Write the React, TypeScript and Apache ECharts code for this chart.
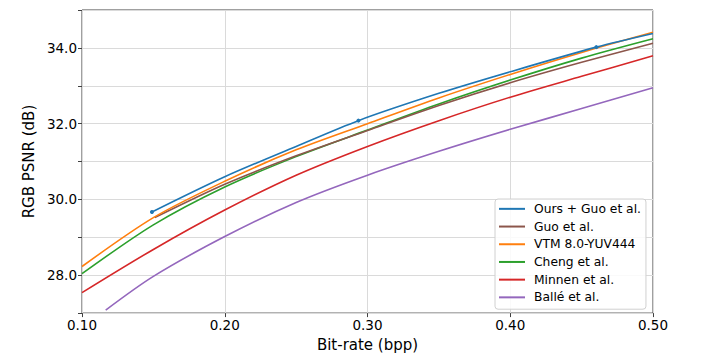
import React, { useEffect, useRef } from "react";
import * as echarts from "echarts";

const xTicks = [0.1, 0.2, 0.3, 0.4, 0.5];
const yMajorLabels = [28, 30, 32, 34];

const oursRate = [0.149, 0.2, 0.25, 0.2936, 0.35, 0.4, 0.4603, 0.5];
const oursPsnr = [29.67, 30.6, 31.4, 32.08, 32.8, 33.37, 34.02, 34.38];
const oursMarked = [0, 3, 6];

const guoRate = [0.151, 0.2, 0.25, 0.3, 0.35, 0.4, 0.45, 0.5];
const guoPsnr = [29.52, 30.4, 31.15, 31.82, 32.48, 33.08, 33.62, 34.12];

const vtmRate = [0.1, 0.15, 0.2, 0.25, 0.3, 0.35, 0.4, 0.45, 0.5];
const vtmPsnr = [28.23, 29.52, 30.48, 31.31, 32.0, 32.68, 33.3, 33.88, 34.41];

const chengRate = [0.1, 0.15, 0.2, 0.25, 0.3, 0.35, 0.4, 0.45, 0.5];
const chengPsnr = [28.04, 29.33, 30.33, 31.13, 31.83, 32.52, 33.15, 33.73, 34.24];

const minnenRate = [0.1, 0.15, 0.2, 0.25, 0.3, 0.35, 0.4, 0.45, 0.5];
const minnenPsnr = [27.54, 28.68, 29.72, 30.64, 31.4, 32.08, 32.7, 33.25, 33.79];

const balleRate = [0.1166, 0.15, 0.2, 0.25, 0.3, 0.35, 0.4, 0.45, 0.5];
const ballePsnr = [27.08, 27.97, 29.02, 29.92, 30.64, 31.27, 31.85, 32.4, 32.95];

const legendOrder = [
  "Ours + Guo et al.",
  "Guo et al.",
  "VTM 8.0-YUV444",
  "Cheng et al.",
  "Minnen et al.",
  "Ballé et al.",
];

const FONT = "DejaVu Sans";

function pairs(xs: number[], ys: number[]) {
  return xs.map((x, i) => [x, ys[i]]);
}

export default function App() {
  const ref = useRef<HTMLDivElement>(null);
  useEffect(() => {
    if (!ref.current) return;
    const chart = echarts.init(ref.current, null, { renderer: "svg" });
    const lineBase = {
      type: "line",
      smooth: 0.3,
      symbol: "none",
      lineStyle: { width: 1.6 },
      clip: true,
    };
    const oursData = oursRate.map((x, i) =>
      oursMarked.includes(i)
        ? { value: [x, oursPsnr[i]], symbol: "circle", symbolSize: 4 }
        : { value: [x, oursPsnr[i]], symbol: "none" }
    );
    chart.setOption({
      animation: false,
      textStyle: { fontFamily: FONT },
      grid: {
        left: 82,
        right: 55,
        top: 10,
        bottom: 41,
        show: true,
        borderColor: "#404040",
        borderWidth: 1,
        backgroundColor: "transparent",
      },
      legend: {
        data: legendOrder,
        orient: "vertical",
        left: 495,
        top: 199,
        icon: "rect",
        itemWidth: 26,
        itemHeight: 2,
        itemGap: 0,
        padding: [1, 5, 3, 4],
        backgroundColor: "rgba(255,255,255,0.85)",
        borderColor: "#d0d0d0",
        borderWidth: 1,
        borderRadius: 3,
        textStyle: {
          fontFamily: FONT,
          fontSize: 12.3,
          color: "#000",
          lineHeight: 17.7,
          padding: [0, 0, 0, 4],
        },
      },
      xAxis: {
        type: "value",
        min: 0.1,
        max: 0.5,
        interval: 0.1,
        name: "Bit-rate (bpp)",
        nameLocation: "middle",
        nameGap: 19,
        nameTextStyle: { fontFamily: FONT, fontSize: 15, color: "#000" },
        axisLine: { show: false },
        axisTick: { show: true, length: 4, lineStyle: { color: "#404040" } },
        axisLabel: {
          fontFamily: FONT,
          fontSize: 13.5,
          color: "#000",
          margin: 5,
          formatter: (v: number) => {
            const t = xTicks.find((k) => Math.abs(k - v) < 1e-6);
            return t !== undefined ? t.toFixed(2) : "";
          },
        },
        splitLine: { show: true, lineStyle: { color: "#dadada", width: 1 } },
      },
      yAxis: {
        type: "value",
        min: 27,
        max: 35,
        interval: 1,
        name: "RGB PSNR (dB)",
        nameLocation: "middle",
        nameGap: 33,
        nameTextStyle: { fontFamily: FONT, fontSize: 15, color: "#000" },
        axisLine: { show: false },
        axisTick: { show: true, length: 4, lineStyle: { color: "#404040" } },
        axisLabel: {
          fontFamily: FONT,
          fontSize: 13.5,
          color: "#000",
          margin: 5,
          formatter: (v: number) => {
            const t = yMajorLabels.find((k) => Math.abs(k - v) < 1e-6);
            return t !== undefined ? t.toFixed(1) : "";
          },
        },
        splitLine: { show: true, lineStyle: { color: "#dadada", width: 1 } },
      },
      series: [
        { ...lineBase, name: "Ballé et al.", color: "#9467bd", data: pairs(balleRate, ballePsnr) },
        { ...lineBase, name: "Minnen et al.", color: "#d62728", data: pairs(minnenRate, minnenPsnr) },
        { ...lineBase, name: "Cheng et al.", color: "#2ca02c", data: pairs(chengRate, chengPsnr) },
        { ...lineBase, name: "Guo et al.", color: "#8c564b", data: pairs(guoRate, guoPsnr) },
        { ...lineBase, name: "VTM 8.0-YUV444", color: "#ff7f0e", data: pairs(vtmRate, vtmPsnr) },
        {
          ...lineBase,
          name: "Ours + Guo et al.",
          color: "#1f77b4",
          symbol: "circle",
          symbolSize: 4,
          showSymbol: true,
          showAllSymbol: true,
          data: oursData,
        },
      ],
    });
    return () => chart.dispose();
  }, []);
  return (
    <div
      ref={ref}
      style={{ position: "fixed", left: 0, top: 0, width: 708, height: 357, background: "#fff" }}
    />
  );
}
